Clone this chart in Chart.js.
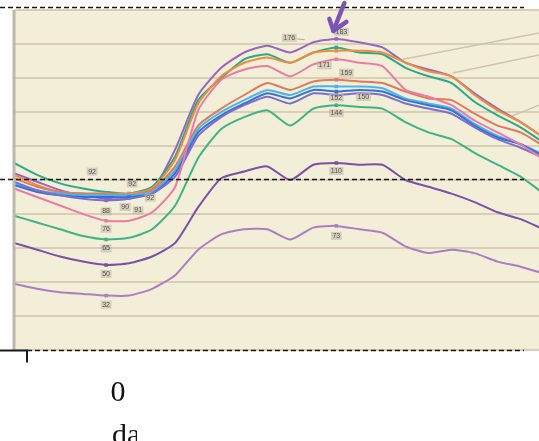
<!DOCTYPE html>
<html>
<head>
<meta charset="utf-8">
<script src="https://cdn.jsdelivr.net/npm/chart.js@4.4.1/dist/chart.umd.min.js"></script>
<style>
  body { margin: 0; background: #fff; }
  canvas { display: block; }
</style>
</head>
<body>
<canvas id="myChart" width="539" height="441"></canvas>
<script>
// step index along the x axis (one vertex per step)
var steps = [0,1,2,3,4,5,6,7,8,9,10,11,12,13,14,15,16,17,18,19,20,21,22,23];

// series values
var topPurple = [104,99,94,91,89,89,94,118,150,166,175,179,175,181,183,181,178,169,165,161,151,142,134,125];
var teal      = [110,103,98,95,93,92,96,114,147,160,171,174,169,175,178,175,174,166,161,157,146,138,131,122];
var orange    = [103,97,93,92,92,92,95,112,145,161,169,172,169,175,176,176,175,169,164,161,150,141,134,125];
var pink      = [95,90,85,80,76,76,81,96,141,159,165,167,161,168,171,169,167,153,149,144,135,128,121,112];
var redOrange = [101,96,93,92,92,91,94,108,132,142,150,157,153,158,159,158,157,152,148,147,139,132,128,120];
var lightBlue = [98,94,92,91,91,91,93,106,130,140,147,153,150,155,155,155,154,148,145,142,133,126,121,115];
var blue      = [97,93,91,90,90,90,92,104,128,138,145,151,148,153,152,153,152,147,144,141,132,125,121,114];
var slate     = [99,94,91,89,88,89,92,102,126,137,144,149,145,151,150,151,150,145,142,139,131,124,119,113];
var green     = [79,75,71,67,65,66,71,85,113,130,137,141,132,142,144,143,142,134,128,124,116,109,102,92];
var purple    = [63,59,55,52,50,51,55,63,84,101,105,108,100,109,110,109,109,100,96,92,87,81,77,71];
var lilac     = [39,36,34,33,32,32,36,44,59,68,71,71,65,72,73,71,69,61,57,59,57,52,49,45];

// y ticks (value axis) and the black reference lines of the outer figure
var yTicks = [0,20,40,60,80,100,120,140,160,180,200];
var refLines = [201.5, 100.6, 0];

// leader lines running off to the cut-off labels on the right: [x0, y0, x1, y1]
var leaders = [
  [16.9, 171, 22.8, 186.5],
  [19.05, 163, 22.8, 173.5],
  [21.5, 137, 22.8, 144]
];

var series = [
  {name: 'lilac',     vals: lilac,     color: 'rgb(172,125,195)', mark: [4, 14]},
  {name: 'purple',    vals: purple,    color: 'rgb(122,80,168)',  mark: [4, 14]},
  {name: 'green',     vals: green,     color: 'rgb(62,180,132)',  mark: [4, 14]},
  {name: 'pink',      vals: pink,      color: 'rgb(236,122,162)', mark: [4, 14]},
  {name: 'slate',     vals: slate,     color: 'rgb(122,112,202)', mark: [4, 14]},
  {name: 'blue',      vals: blue,      color: 'rgb(55,112,218)',  mark: [5, 14]},
  {name: 'lightBlue', vals: lightBlue, color: 'rgb(72,182,236)',  mark: [5, 14]},
  {name: 'redOrange', vals: redOrange, color: 'rgb(224,122,92)',  mark: [4, 14]},
  {name: 'orange',    vals: orange,    color: 'rgb(242,140,60)',  mark: [5, 14]},
  {name: 'teal',      vals: teal,      color: 'rgb(40,170,140)',  mark: [5, 14]},
  {name: 'topPurple', vals: topPurple, color: 'rgb(152,102,192)', mark: [14]}
];

// which point gets a value tag, and where the tag sits relative to it
var tags = [
  {s: 'lilac', k: 4, dx: 0, dy: 9},
  {s: 'purple', k: 4, dx: 0, dy: 9},
  {s: 'green', k: 4, dx: 0, dy: 9},
  {s: 'pink', k: 4, dx: 0, dy: 8},
  {s: 'slate', k: 4, dx: 0, dy: 11},
  {s: 'redOrange', k: 4, dx: -14, dy: -22},
  {s: 'teal', k: 5, dx: 3, dy: -10},
  {s: 'blue', k: 5, dx: -4, dy: 10},
  {s: 'lightBlue', k: 5, dx: 9, dy: 15},
  {s: 'orange', k: 5, dx: 21, dy: 4},
  {s: 'orange', k: 14, dx: -47, dy: -13, leader: true},
  {s: 'topPurple', k: 14, dx: 5, dy: -7},
  {s: 'pink', k: 14, dx: -12, dy: 6},
  {s: 'redOrange', k: 14, dx: 10, dy: -7},
  {s: 'blue', k: 14, dx: 0, dy: 6},
  {s: 'slate', k: 14, dx: 27, dy: 2},
  {s: 'green', k: 14, dx: 0, dy: 8},
  {s: 'purple', k: 14, dx: 0, dy: 8},
  {s: 'lilac', k: 14, dx: 0, dy: 10}
];

var datasets = [];
leaders.forEach(function(l){
  datasets.push({
    data: [{x: l[0], y: l[1]}, {x: l[2], y: l[3]}],
    borderColor: 'rgb(205,197,178)', borderWidth: 1.5,
    pointRadius: 0, tension: 0, order: 20
  });
});
series.forEach(function(s){
  datasets.push({
    label: s.name,
    data: s.vals.map(function(v, i){ return {x: steps[i], y: v}; }),
    borderColor: s.color,
    backgroundColor: s.color,
    borderWidth: 2,
    tension: 0.2,
    pointStyle: 'rect',
    pointRadius: steps.map(function(k){ return s.mark.indexOf(k) >= 0 ? 2.5 : 0; }),
    pointBorderWidth: 0,
    pointBackgroundColor: s.color
  });
});

var decor = {
  id: 'decor',
  beforeDraw: function(chart){
    var c = chart.ctx, a = chart.chartArea;
    c.save();
    c.fillStyle = '#ffffff';
    c.fillRect(0, 0, chart.width, chart.height);
    c.fillStyle = 'rgb(243,238,215)';
    c.fillRect(a.left, a.top, a.right - a.left, a.bottom - a.top);
    c.restore();
  },
  afterDatasetsDraw: function(chart){
    var c = chart.ctx, a = chart.chartArea;
    var xs = chart.scales.x, ys = chart.scales.y;
    c.save();

    // left frame of the inner plot
    c.strokeStyle = 'rgb(190,184,170)';
    c.lineWidth = 3;
    c.beginPath(); c.moveTo(a.left, a.top); c.lineTo(a.left, a.bottom); c.stroke();

    // value tags
    c.font = '7px Arial';
    c.textAlign = 'center';
    c.textBaseline = 'middle';
    tags.forEach(function(t){
      var s = series.filter(function(z){ return z.name === t.s; })[0];
      var v = s.vals[t.k];
      var px = xs.getPixelForValue(steps[t.k]) + t.dx;
      var py = ys.getPixelForValue(v) + t.dy;
      var txt = String(v);
      var w = c.measureText(txt).width + 3;
      c.fillStyle = 'rgba(190,184,168,0.6)';
      c.fillRect(px - w / 2, py - 4, w, 8);
      c.fillStyle = '#5b5852';
      c.fillText(txt, px, py);
      if (t.leader) {
        c.strokeStyle = 'rgba(150,145,135,0.7)';
        c.lineWidth = 1;
        c.beginPath(); c.moveTo(px + w / 2, py + 1); c.lineTo(px + w / 2 + 8, py + 2); c.stroke();
      }
    });

    // black dashed reference lines of the outer figure
    c.strokeStyle = '#1a1a1a';
    c.lineWidth = 1.6;
    c.setLineDash([5, 3]);
    refLines.forEach(function(v, i){
      var py = Math.round(ys.getPixelForValue(v)) + 0.5;
      var x0 = i === 2 ? 27 : 0;
      c.beginPath(); c.moveTo(x0, py); c.lineTo(524, py); c.stroke();
    });
    c.setLineDash([]);

    // outer axis stub
    var by = Math.round(ys.getPixelForValue(0)) + 0.5;
    c.lineWidth = 2;
    c.beginPath(); c.moveTo(0, by); c.lineTo(27, by); c.lineTo(27, by + 12); c.stroke();

    // purple arrow pointing at the peak
    var tx = xs.getPixelForValue(steps[14]) - 3;
    var ty = ys.getPixelForValue(topPurple[14]) - 8;
    c.strokeStyle = 'rgb(124,84,180)';
    c.lineWidth = 4.5;
    c.lineCap = 'round';
    c.lineJoin = 'round';
    c.beginPath(); c.moveTo(tx + 11, 3); c.lineTo(tx, ty); c.stroke();
    c.beginPath(); c.moveTo(tx - 4, ty - 12); c.lineTo(tx, ty); c.lineTo(tx + 13, ty - 9); c.stroke();

    // outer x axis text (cropped)
    c.fillStyle = '#111';
    c.font = '30px "Liberation Serif", serif';
    c.textAlign = 'center';
    c.textBaseline = 'alphabetic';
    c.fillText('0', 118, 401);
    c.beginPath(); c.rect(0, 405, 137, 40); c.clip();
    c.textAlign = 'left';
    c.fillText('da', 112, 444);
    c.restore();
  }
};

var ctx = document.getElementById('myChart').getContext('2d');
var chart = new Chart(ctx, {
  type: 'line',
  data: {datasets: datasets},
  options: {
    responsive: false,
    animation: false,
    layout: {padding: {left: 14, top: 10, right: 0, bottom: 91}},
    plugins: {legend: {display: false}, tooltip: {enabled: false}},
    scales: {
      x: {type: 'linear', min: 0, max: 22.8, display: false},
      y: {
        min: 0, max: 200,
        afterBuildTicks: function(scale){ scale.ticks = yTicks.map(function(v){ return {value: v}; }); },
        ticks: {display: false},
        border: {display: false},
        grid: {color: 'rgb(216,207,182)', lineWidth: 2, drawTicks: false}
      }
    }
  },
  plugins: [decor]
});
</script>
</body>
</html>
